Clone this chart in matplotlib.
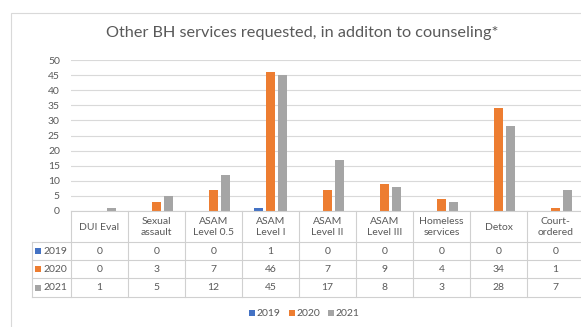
import matplotlib
matplotlib.use("Agg")
import matplotlib.pyplot as plt
from matplotlib.patches import Rectangle
from matplotlib.lines import Line2D

plt.rcParams['font.family'] = ['Lato', 'DejaVu Sans']

title = "Other BH services requested, in additon to counseling*"
categories = ["DUI Eval", "Sexual\nassault", "ASAM\nLevel 0.5", "ASAM\nLevel I",
              "ASAM\nLevel II", "ASAM\nLevel III", "Homeless\nservices", "Detox",
              "Court-\nordered"]
series_names = ["2019", "2020", "2021"]
values_2019 = [0, 0, 0, 1, 0, 0, 0, 0, 0]
values_2020 = [0, 3, 7, 46, 7, 9, 4, 34, 1]
values_2021 = [1, 5, 12, 45, 17, 8, 3, 28, 7]
series_values = [values_2019, values_2020, values_2021]
colors = ["#4472C4", "#ED7D31", "#A5A5A5"]
yticks = [0, 5, 10, 15, 20, 25, 30, 35, 40, 45, 50]

TEXT = "#595959"
GRID = "#D9D9D9"
W, H = 581, 327
fig = plt.figure(figsize=(W / 100, H / 100), dpi=100)


def fx(px):
    return px / W


def fy(py):
    return 1 - py / H


# chart frame
fig.add_artist(Rectangle((fx(11), fy(340)), fx(600), fy(13) - fy(340),
                         transform=fig.transFigure, fill=False,
                         edgecolor="#D9D9D9", linewidth=0.8))

fig.text(fx(302), fy(33), title, ha="center", va="center",
         fontsize=11.7, color=TEXT)

# plot area
x0, x1 = 71, 584
ytop, ybot = 60, 211
ax = fig.add_axes([fx(x0), fy(ybot), fx(x1) - fx(x0), fy(ytop) - fy(ybot)])
n = len(categories)
bw = 0.165
step = 0.21
for k, (vals, c) in enumerate(zip(series_values, colors)):
    xs = [i + (k - 1) * step for i in range(n)]
    ax.bar(xs, vals, width=bw, color=c, zorder=3)
ax.set_xlim(-0.5, n - 0.5)
ax.set_ylim(0, 50)
ax.set_yticks(yticks)
ax.set_yticklabels([str(t) for t in yticks], fontsize=7.5, color=TEXT)
ax.tick_params(axis="y", length=0, pad=8)
ax.set_xticks([])
ax.yaxis.grid(True, color=GRID, linewidth=0.8, zorder=0)
for s in ax.spines.values():
    s.set_visible(False)

# data table below the plot
tax = fig.add_axes([0, 0, 1, 1])
tax.set_xlim(0, W)
tax.set_ylim(H, 0)
tax.axis("off")
col_w = (x1 - x0) / n
rows_y = [211, 242, 260, 278, 297]
lc = "#D0D0D0"
lw = 0.8
# horizontal lines
tax.add_line(Line2D([x0, x1], [rows_y[0], rows_y[0]], color=lc, lw=lw))
for yy in rows_y[1:]:
    tax.add_line(Line2D([32, x1], [yy, yy], color=lc, lw=lw))
# vertical lines
tax.add_line(Line2D([32, 32], [rows_y[1], rows_y[-1]], color=lc, lw=lw))
for i in range(n + 1):
    xx = x0 + i * col_w
    tax.add_line(Line2D([xx, xx], [rows_y[0], rows_y[-1]], color=lc, lw=lw))
# header text
for i, cat in enumerate(categories):
    tax.text(x0 + (i + 0.5) * col_w, (rows_y[0] + rows_y[1]) / 2 + 0.5, cat,
             ha="center", va="center", fontsize=7.5, color=TEXT,
             linespacing=1.25)
# series rows
for r, (name, vals, c) in enumerate(zip(series_names, series_values, colors)):
    yc = (rows_y[r + 1] + rows_y[r + 2]) / 2
    tax.add_patch(Rectangle((35, yc - 3), 6, 6, color=c, lw=0))
    tax.text(43, yc, name, ha="left", va="center", fontsize=7.5, color=TEXT)
    for i, v in enumerate(vals):
        tax.text(x0 + (i + 0.5) * col_w, yc, str(v), ha="center", va="center",
                 fontsize=7.5, color=TEXT)

# legend
leg_x = [249, 289, 328]
for lx, name, c in zip(leg_x, series_names, colors):
    tax.add_patch(Rectangle((lx, 310), 5.5, 5.5, color=c, lw=0))
    tax.text(lx + 7, 313, name, ha="left", va="center", fontsize=7.5, color=TEXT)

fig.savefig("out.png", dpi=100)
